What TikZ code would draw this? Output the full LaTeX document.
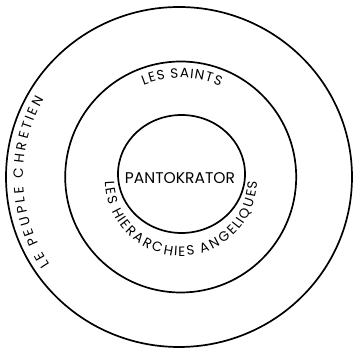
\documentclass[tikz,border=0pt]{standalone}
\usepackage{fontspec}
\newfontfamily\pop{Poppins}
\usetikzlibrary{decorations.text}
\begin{document}
\begin{tikzpicture}[x=1pt,y=1pt,
  ring/.style={line width=1.7pt},
  curvetext/.style={decorate, decoration={text effects along path, text={#1},
      text effects/.cd, text along path, fit text to path,
      characters={font=\pop\fontsize{13.5}{16}\selectfont}}}]
\useasboundingbox (0,0) rectangle (354,350);
\coordinate (co) at (179,173);
\coordinate (cm) at (180.7,173);
\coordinate (ci) at (181.5,176);
\coordinate (ct) at (181,170);
\draw[ring] (co) ellipse[x radius=173, y radius=170];
\draw[ring] (cm) circle[radius=115.5];
\draw[ring] (ci) ellipse[x radius=63.5, y radius=59];
\node[font=\pop\fontsize{15.5}{18}\selectfont, inner sep=0pt] (pk) at (180,172) {PANTOKRATOR};
\path[curvetext={LES SAINTS}] ([shift={(cm)}]112:99) arc[start angle=112, end angle=66.5, radius=99];
\path[curvetext={LE PEUPLE CHRETIEN}] ([shift={(co)}]214:156) arc[start angle=214, end angle=150, radius=156];
\path[curvetext={LES HIERARCHIES ANGELIQUES}] ([shift={(ct)}]181:76) arc[start angle=181, end angle=359, radius=76];
\end{tikzpicture}
\end{document}
